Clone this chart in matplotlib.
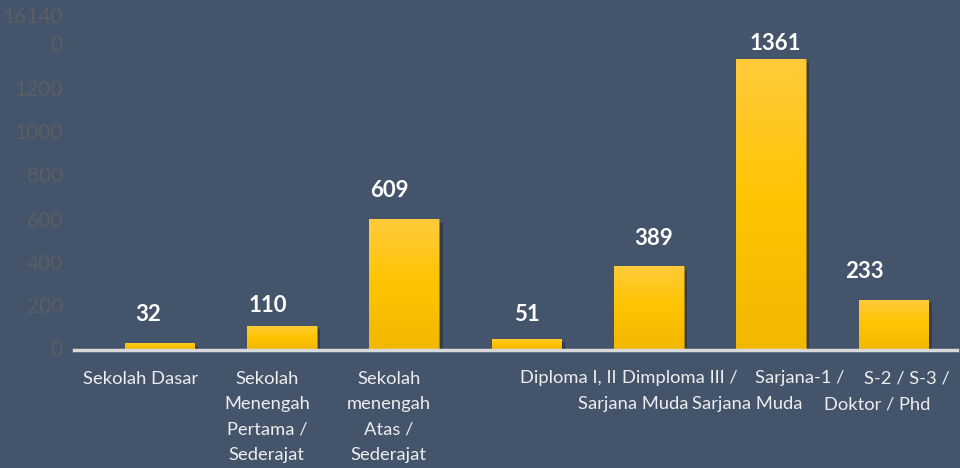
import numpy as np
import matplotlib
matplotlib.use("Agg")
import matplotlib.pyplot as plt
import matplotlib.patheffects as pe
import matplotlib.transforms as mtransforms
from matplotlib.colors import LinearSegmentedColormap

# ---------------- data ----------------
categories = [
    "Sekolah Dasar",
    "Sekolah\nMenengah\nPertama /\nSederajat",
    "Sekolah\nmenengah\nAtas /\nSederajat",
    "Diploma I, II",
    "Dimploma III /\nSarjana Muda",
    "Sarjana-1 /\nSarjana Muda",
    "S-2 / S-3 /\nDoktor / Phd",
]
values = [32, 110, 609, 51, 389, 1361, 233]
ytick_values = [0, 200, 400, 600, 800, 1000, 1200, 1400, 1600]
ytick_labels = ["0", "200", "400", "600", "800", "1000", "1200", "0", "16140"]

# ---------------- style ----------------
BG = "#44546A"
TICK_COLOR = "#5B5E63"
CAT_COLOR = "#EDEDED"
AXIS_COLOR = "#D9D9D9"
FONT = "Lato"

# per-line horizontal offsets (pixels) of category labels
cat_dx = [[-19.5], [-15] * 4, [-15.5] * 4, [42], [31, -15.5], [29, -24], [13, -16]]
# data label offsets (pixels)
lab_dx = [-12, -14, -15, 0, 5, 4, -29]
lab_dy = [28, 21, 29, 24, 28, 15, 28]
# vertical nudges (pixels, + = up) of y tick labels
ytick_dy = [1, 2, 2, 2, 4.5, 5, 5, 7.5, -7]

fig = plt.figure(figsize=(9.6, 4.68), dpi=100, facecolor=BG)
ax = fig.add_axes([74 / 960, (468 - 349.5) / 468, 883 / 960, 341.6 / 468])
ax.set_facecolor(BG)

x = np.arange(len(categories))
bars = ax.bar(x, values, width=0.57, color="#FFC000", edgecolor="#B8860B",
              linewidth=0.4, zorder=2,
              path_effects=[pe.SimplePatchShadow(offset=(2.5, -2.5), shadow_rgbFace="#1e2530", alpha=0.45),
                            pe.Normal()])

# gradient fill on bars
cmap = LinearSegmentedColormap.from_list("gold", ["#F2B700", "#FFC400", "#FFCB3C"])
grad = np.linspace(0, 1, 256).reshape(-1, 1)
for b in bars:
    x0, y0 = b.get_x(), b.get_y()
    w, h = b.get_width(), b.get_height()
    im = ax.imshow(grad, cmap=cmap, origin="lower", aspect="auto",
                   extent=[x0, x0 + w, y0, y0 + h], zorder=2.5)
    im.set_clip_path(b)

ax.set_xlim(-0.7, 6.52)
ax.set_ylim(0, 1600)

# spines
for s in ["top", "right", "left"]:
    ax.spines[s].set_visible(False)
ax.spines["bottom"].set_color(AXIS_COLOR)
ax.spines["bottom"].set_linewidth(2.5)
ax.spines["bottom"].set_zorder(3)

ax.set_yticks(ytick_values)
ax.set_yticklabels(ytick_labels, fontsize=15, color=TICK_COLOR, family=FONT)
ax.tick_params(axis="y", length=0, pad=8)
ax.set_xticks([])
for lbl, dy in zip(ax.get_yticklabels(), ytick_dy):
    lbl.set_transform(lbl.get_transform() +
                      mtransforms.ScaledTranslation(0, dy / 100, fig.dpi_scale_trans))

# category labels
for i, lab in enumerate(categories):
    for k, line in enumerate(lab.split("\n")):
        ax.annotate(line, xy=(x[i], 0), xycoords="data",
                    xytext=(cat_dx[i][k], -29 - 25.5 * k), textcoords="offset pixels",
                    ha="center", va="center", fontsize=13.2, color=CAT_COLOR,
                    family=FONT, annotation_clip=False)

# data labels
for i, v in enumerate(values):
    ax.annotate(f"{v}", xy=(x[i], v), xycoords="data",
                xytext=(lab_dx[i], lab_dy[i]), textcoords="offset pixels",
                ha="center", va="center", fontsize=16, fontweight="bold",
                color="white", family=FONT, annotation_clip=False)

fig.savefig("out.png", dpi=100, facecolor=BG)
